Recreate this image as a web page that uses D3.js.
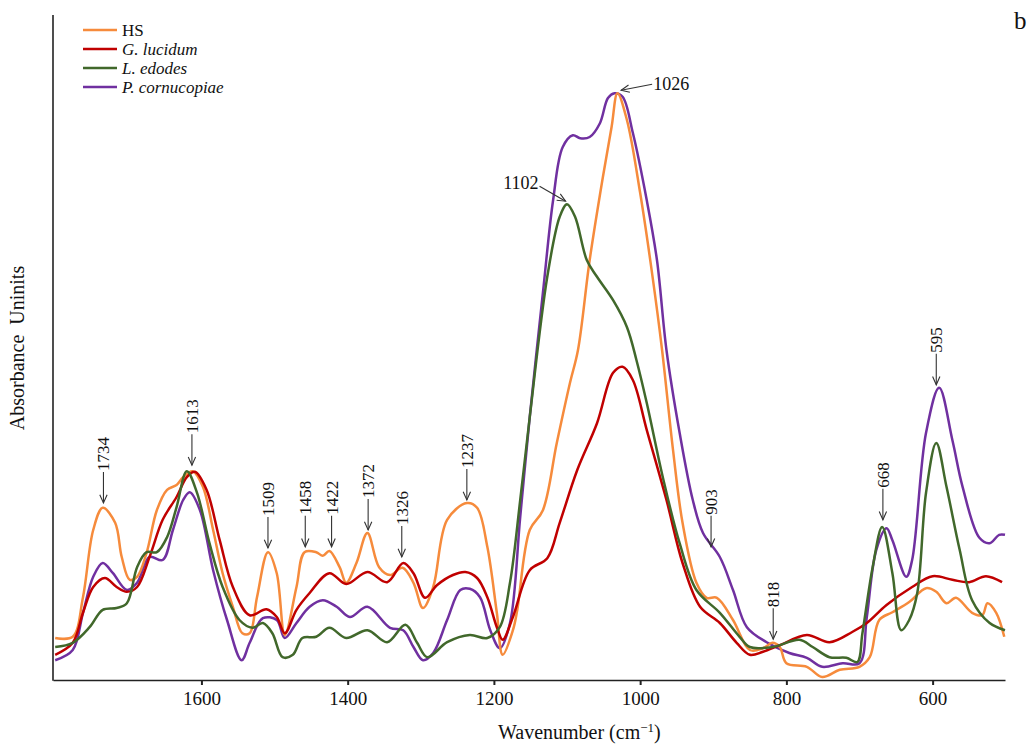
<!DOCTYPE html>
<html>
<head>
<meta charset="utf-8">
<script src="https://cdn.jsdelivr.net/npm/d3@7"></script>
<style>
  html, body { margin: 0; padding: 0; background: #fff; }
  svg { display: block; }
  text { font-family: "Liberation Serif", "DejaVu Serif", serif; fill: #111; }
</style>
</head>
<body>
<svg id="chart" width="1036" height="748"></svg>
<script>
// FTIR spectra: [wavenumber (cm-1), absorbance]
const seriesNames = ["HS", "G. lucidum", "L. edodes", "P. cornucopiae"];
const seriesColors = ["#F68B3C", "#C00000", "#41682B", "#7030A0"];

const hsData = [
  [1800,0.070],[1776,0.072],[1762,0.138],[1748,0.250],[1735,0.287],[1718,0.262],[1709,0.205],
  [1698,0.167],[1688,0.172],[1675,0.212],[1661,0.283],[1647,0.317],[1634,0.325],[1625,0.338],
  [1612,0.348],[1598,0.322],[1584,0.250],[1571,0.178],[1557,0.122],[1544,0.078],[1534,0.078],
  [1524,0.138],[1509,0.213],[1497,0.178],[1486,0.075],[1470,0.155],[1459,0.213],[1443,0.213],
  [1434,0.207],[1425,0.215],[1411,0.188],[1402,0.162],[1388,0.195],[1373,0.245],[1357,0.188],
  [1342,0.175],[1325,0.187],[1310,0.162],[1297,0.120],[1283,0.155],[1264,0.267],[1237,0.295],
  [1223,0.287],[1209,0.222],[1196,0.112],[1188,0.042],[1174,0.083],[1168,0.117],[1151,0.250],
  [1133,0.283],[1114,0.395],[1096,0.495],[1085,0.550],[1069,0.700],[1051,0.838],[1039,0.922],
  [1031,0.978],[1018,0.933],[1000,0.812],[983,0.672],[970,0.550],[955,0.383],[942,0.262],
  [923,0.162],[909,0.137],[895,0.137],[873,0.100],[850,0.050],[832,0.053],[819,0.062],
  [809,0.055],[800,0.028],[772,0.022],[751,0.005],[727,0.017],[700,0.022],[686,0.038],
  [673,0.100],[655,0.113],[632,0.130],[609,0.153],[595,0.147],[581,0.128],[568,0.137],
  [546,0.112],[532,0.108],[525,0.128],[513,0.112],[502,0.072]
];

const glData = [
  [1800,0.042],[1776,0.062],[1762,0.112],[1748,0.155],[1732,0.170],[1716,0.155],[1702,0.147],
  [1688,0.155],[1671,0.205],[1653,0.267],[1634,0.305],[1620,0.338],[1609,0.347],[1593,0.317],
  [1575,0.233],[1557,0.155],[1534,0.108],[1511,0.118],[1497,0.105],[1486,0.078],[1470,0.117],
  [1452,0.145],[1425,0.178],[1402,0.160],[1373,0.180],[1346,0.163],[1324,0.195],[1310,0.178],
  [1294,0.137],[1278,0.158],[1256,0.175],[1239,0.180],[1223,0.170],[1209,0.138],[1196,0.088],
  [1188,0.067],[1174,0.105],[1151,0.183],[1127,0.203],[1110,0.262],[1086,0.350],[1059,0.428],
  [1037,0.512],[1024,0.522],[1010,0.500],[991,0.417],[964,0.300],[942,0.195],[918,0.122],
  [891,0.095],[868,0.062],[850,0.042],[832,0.047],[809,0.058],[772,0.075],[741,0.063],
  [710,0.080],[690,0.095],[663,0.125],[628,0.155],[600,0.173],[573,0.167],[550,0.163],
  [527,0.173],[505,0.163]
];

const leData = [
  [1800,0.055],[1776,0.062],[1753,0.088],[1735,0.117],[1716,0.120],[1702,0.128],[1688,0.188],
  [1675,0.213],[1661,0.213],[1647,0.238],[1634,0.288],[1620,0.348],[1606,0.312],[1589,0.228],
  [1571,0.155],[1548,0.100],[1530,0.087],[1516,0.095],[1503,0.078],[1489,0.038],[1475,0.042],
  [1462,0.070],[1443,0.072],[1425,0.087],[1402,0.070],[1373,0.083],[1346,0.063],[1321,0.092],
  [1305,0.062],[1291,0.038],[1264,0.063],[1233,0.075],[1209,0.070],[1192,0.088],[1178,0.162],
  [1164,0.300],[1151,0.438],[1127,0.672],[1110,0.772],[1100,0.793],[1089,0.772],[1073,0.700],
  [1059,0.672],[1037,0.633],[1018,0.588],[1005,0.533],[991,0.462],[969,0.338],[946,0.228],
  [923,0.150],[891,0.112],[864,0.072],[850,0.055],[819,0.055],[782,0.067],[764,0.055],
  [741,0.038],[718,0.037],[703,0.030],[696,0.078],[682,0.188],[669,0.255],[655,0.178],
  [643,0.083],[632,0.100],[621,0.145],[609,0.312],[595,0.395],[581,0.322],[563,0.217],
  [546,0.133],[522,0.095],[501,0.083]
];

const pcData = [
  [1800,0.033],[1776,0.050],[1762,0.112],[1748,0.172],[1735,0.195],[1721,0.178],[1702,0.150],
  [1688,0.162],[1671,0.205],[1653,0.200],[1639,0.250],[1625,0.300],[1616,0.313],[1602,0.283],
  [1584,0.183],[1565,0.100],[1545,0.033],[1534,0.062],[1516,0.103],[1497,0.100],[1486,0.070],
  [1470,0.095],[1452,0.122],[1434,0.133],[1415,0.122],[1397,0.105],[1373,0.122],[1342,0.087],
  [1324,0.083],[1310,0.055],[1297,0.033],[1283,0.045],[1264,0.100],[1246,0.150],[1233,0.152],
  [1219,0.138],[1205,0.083],[1192,0.053],[1178,0.095],[1164,0.272],[1151,0.438],[1133,0.645],
  [1119,0.800],[1106,0.888],[1092,0.908],[1082,0.903],[1069,0.905],[1055,0.928],[1044,0.970],
  [1035,0.978],[1024,0.972],[1010,0.912],[991,0.800],[977,0.700],[964,0.550],[946,0.412],
  [928,0.300],[914,0.245],[891,0.205],[873,0.150],[854,0.088],[827,0.063],[796,0.045],
  [772,0.037],[751,0.022],[723,0.028],[700,0.028],[690,0.105],[677,0.217],[663,0.253],
  [655,0.233],[636,0.172],[628,0.200],[609,0.412],[591,0.487],[573,0.400],[559,0.322],
  [536,0.237],[522,0.228],[509,0.242],[501,0.242]
];

const xTicks = [1600, 1400, 1200, 1000, 800, 600];

// Vertical peak markers: wavenumber label and absorbance at the arrow tip
const peakWn = [1734, 1613, 1509, 1458, 1422, 1372, 1326, 1237, 903, 818, 668, 595];
const peakTip = [0.295, 0.358, 0.220, 0.222, 0.222, 0.250, 0.205, 0.300, 0.222, 0.068, 0.267, 0.492];

// Slanted peak markers (label beside the arrow)
const slantWn = [1026, 1102];
const slantTip = [0.983, 0.798];

const svg = d3.select("#chart");
const plotL = 53, plotR = 1005, plotT = 15, plotB = 680;

const x = d3.scaleLinear().domain([1803, 501]).range([plotL, plotR]);
const y = d3.scaleLinear().domain([0, 1]).range([plotB, 80]);

// Axes
const xAxis = d3.axisBottom(x).tickValues(xTicks).tickFormat(d3.format("d"))
  .tickSize(5).tickSizeOuter(0).tickPadding(7);
const gx = svg.append("g").attr("transform", `translate(0,${plotB})`).call(xAxis);
gx.select(".domain").attr("stroke", "#222").attr("stroke-width", 1.6);
gx.selectAll(".tick line").attr("stroke", "#222").attr("stroke-width", 2);
gx.selectAll(".tick text")
  .style("font-family", "'Liberation Serif', serif")
  .style("font-size", "19px").attr("fill", "#111");

svg.append("line")
  .attr("x1", plotL).attr("x2", plotL).attr("y1", plotT).attr("y2", plotB + 0.8)
  .attr("stroke", "#222").attr("stroke-width", 1.6);

// Axis titles
const xt = svg.append("text")
  .attr("x", 498).attr("y", 739)
  .attr("text-anchor", "start").style("font-size", "20px");
xt.append("tspan").text("Wavenumber (cm");
xt.append("tspan").attr("dy", -7).style("font-size", "13px").text("\u22121");
xt.append("tspan").attr("dy", 7).text(")");

svg.append("text")
  .attr("transform", "translate(24,348) rotate(-90)")
  .attr("text-anchor", "middle").style("font-size", "20px")
  .style("white-space", "pre")
  .text("Absorbance  Uninits");

svg.append("text").attr("x", 1014).attr("y", 29).style("font-size", "25px").text("b");

// Spectra
const line = d3.line()
  .x(d => x(d[0])).y(d => y(d[1]))
  .curve(d3.curveCatmullRom.alpha(0.5));

const allSeries = [hsData, glData, leData, pcData];
const drawOrder = [3, 0, 1, 2];
drawOrder.forEach(i => {
  svg.append("path")
    .datum(allSeries[i])
    .attr("d", line)
    .attr("fill", "none")
    .attr("stroke", seriesColors[i])
    .attr("stroke-width", 2.5)
    .attr("stroke-linejoin", "round");
});

// Legend
const legend = svg.append("g");
seriesNames.forEach((name, i) => {
  const ly = 30 + i * 19;
  legend.append("line")
    .attr("x1", 83).attr("x2", 117).attr("y1", ly).attr("y2", ly)
    .attr("stroke", seriesColors[i]).attr("stroke-width", 2.5);
  legend.append("text")
    .attr("x", 122).attr("y", ly + 5.5)
    .style("font-size", "17px")
    .style("font-style", i === 0 ? "normal" : "italic")
    .text(name);
});

// Arrow markers
const ann = svg.append("g").attr("stroke", "#333").attr("fill", "none").attr("stroke-width", 1.1);
function arrowHead(tx, ty, angle) {
  const L = 9, w = 0.42;
  const a1 = angle + Math.PI - w, a2 = angle + Math.PI + w;
  ann.append("path")
    .attr("d", `M${tx + L * Math.cos(a1)},${ty + L * Math.sin(a1)} L${tx},${ty} L${tx + L * Math.cos(a2)},${ty + L * Math.sin(a2)}`);
}

peakWn.forEach((wn, i) => {
  const px = x(wn), py = y(peakTip[i]);
  const len = 31;
  ann.append("line").attr("x1", px).attr("x2", px).attr("y1", py - len).attr("y2", py);
  arrowHead(px, py, Math.PI / 2);
  svg.append("text")
    .attr("transform", `translate(${px + 6},${py - len - 1}) rotate(-90)`)
    .attr("text-anchor", "start")
    .style("font-size", "17px")
    .text(String(wn));
});

// 1026: label to the right, arrow pointing left to the peak
{
  const tx = x(slantWn[0]), ty = y(slantTip[0]);
  const sx = tx + 31, sy = ty - 6;
  ann.append("line").attr("x1", sx).attr("y1", sy).attr("x2", tx).attr("y2", ty);
  arrowHead(tx, ty, Math.atan2(ty - sy, tx - sx));
  svg.append("text").attr("x", sx + 1).attr("y", sy + 6).style("font-size", "18px").text(String(slantWn[0]));
}
// 1102: label to the upper left, arrow pointing down-right to the peak
{
  const tx = x(slantWn[1]), ty = y(slantTip[1]);
  const sx = tx - 26, sy = ty - 15;
  ann.append("line").attr("x1", sx).attr("y1", sy).attr("x2", tx).attr("y2", ty);
  arrowHead(tx, ty, Math.atan2(ty - sy, tx - sx));
  svg.append("text").attr("x", sx - 1).attr("y", sy + 3).attr("text-anchor", "end")
    .style("font-size", "18px").text(String(slantWn[1]));
}
</script>
</body>
</html>
